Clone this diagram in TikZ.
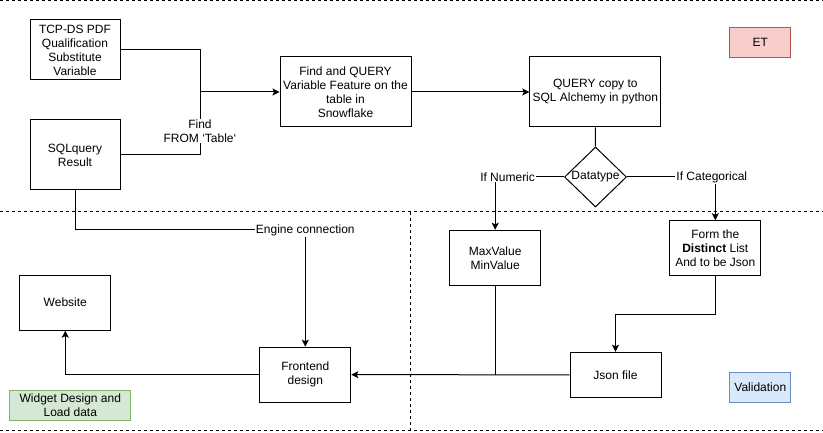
\documentclass[tikz,border=0pt]{standalone}
\usepackage{fontspec}
\setmainfont{Liberation Sans}
\usetikzlibrary{shapes.geometric, arrows.meta}
\definecolor{etfill}{HTML}{F8CECC}
\definecolor{etline}{HTML}{B85450}
\definecolor{valfill}{HTML}{DAE8FC}
\definecolor{valline}{HTML}{6C8EBF}
\definecolor{widfill}{HTML}{D5E8D4}
\definecolor{widline}{HTML}{82B366}
\tikzset{
  box/.style={draw, line width=1pt, align=center, inner sep=2pt,
    minimum width=91pt, minimum height=55pt, font=\fontsize{12}{14}\selectfont},
  tag/.style={box, minimum width=61pt, minimum height=30pt},
  lbl/.style={fill=white, inner sep=1pt, align=center, font=\fontsize{12}{14}\selectfont},
  link/.style={line width=1pt},
  arr/.style={link, -{Stealth[length=7pt, width=7pt, inset=1.5pt]}},
  zone/.style={line width=1pt, dash pattern=on 3pt off 3pt}
}
\begin{document}
\begin{tikzpicture}[x=1pt, y=-1pt]
    \useasboundingbox (0, 0) rectangle (823, 433);
    % dashed zones
    \draw [zone] (0, 1) -- (823, 1);
    \draw [zone] (0, 212) -- (823, 212);
    \draw [zone] (0, 430) -- (823, 430);
    \draw [zone] (410.7, 212) -- (410.7, 430);
    % boxes
    \node [box, minimum width=90pt, minimum height=60pt] (tcp) at (75, 50) {TCP-DS PDF\\Qualification\\Substitute\\Variable};
    \node [box, minimum width=90pt, minimum height=70pt] (sqlres) at (75, 155) {SQLquery\\Result};
    \node [box, minimum width=131pt, minimum height=70pt] (findq) at (345.5, 92) {Find and QUERY\\Variable Feature on the\\table in\\Snowflake};
    \node [box, minimum width=131pt, minimum height=70pt] (copyq) at (595.3, 92) {QUERY copy to\\SQL Alchemy in python};
    \node [tag, fill=etfill, draw=etline] (et) at (760.3, 42.3) {ET};
    \node [box, diamond, minimum width=62pt, minimum height=60pt, inner sep=0pt] (dtype) at (595.5, 177) {Datatype};
    \node [box] (maxv) at (495.2, 257.8) {MaxValue\\MinValue};
    \node [box] (distinct) at (715.3, 248.2) {Form the\\\textbf{Distinct} List\\And to be Json};
    \node [box, minimum height=45pt] (json) at (615.5, 374.8) {Json file};
    \node [box] (front) at (305.3, 374.7) {Frontend\\design};
    \node [box] (web) at (65.3, 302.7) {Website};
    \node [tag, minimum width=121pt, fill=widfill, draw=widline] (widget) at (70.3, 405.5) {Widget Design and\\Load data};
    \node [tag, fill=valfill, draw=valline] (valid) at (760.3, 387.3) {Validation};
    % connectors
    \coordinate (fj) at (200, 92);
    \draw [link] (tcp.east) -| (fj);
    \draw [link] (sqlres.east) -| node [lbl, pos=0.69] {Find\\FROM ‘Table‘} (fj);
    \draw [arr] (fj) -- (findq.west);
    \draw [arr] (findq.east) -- (copyq.west);
    \draw [link] (copyq.south) -- (dtype.north);
    \draw [arr] (dtype.west) -| node [lbl, pos=0.41] {If Numeric} (maxv.north);
    \draw [arr] (dtype.east) -| node [lbl, pos=0.48] {If Categorical} (distinct.north);
    \coordinate (ec) at (front.north |- 0, 230);
    \draw [arr] (sqlres.south) |- (ec) node [lbl] {Engine connection} -- (front.north);
    \draw [arr] (front.west) -| (web.south);
    \draw [arr] (distinct.south) -- ++(0, 38.3) -| (json.north);
    \draw [arr] (json.west) -- (front.east);
    \draw [link] (maxv.south) -- (maxv.south |- json.west);
  \end{tikzpicture}
\end{document}
